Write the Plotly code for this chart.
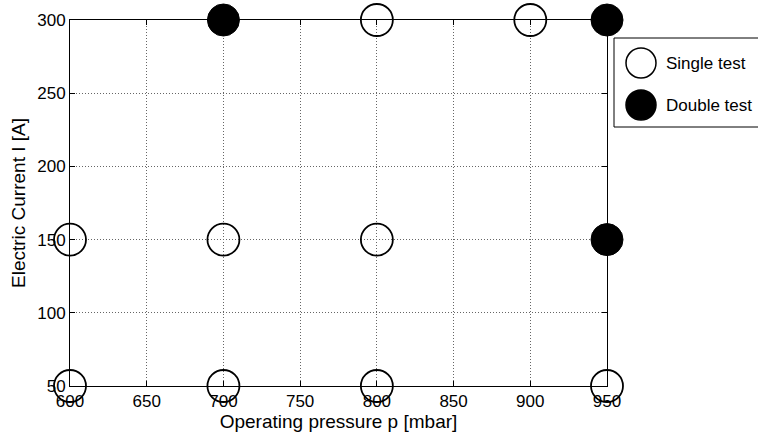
import plotly.graph_objects as go

single_x = [600, 700, 800, 950, 600, 700, 800, 800, 900]
single_y = [50, 50, 50, 50, 150, 150, 150, 300, 300]
double_x = [700, 950, 950]
double_y = [300, 300, 150]
x_ticks = [600, 650, 700, 750, 800, 850, 900, 950]
y_ticks = [50, 100, 150, 200, 250, 300]
legend_labels = ["Single test", "Double test"]

FONT = "Liberation Sans, Arial, sans-serif"
W, H = 758, 437
# plot area in page pixels
L, R, T, B = 70, 607, 20, 386

def xp(px):  # page px -> paper
    return (px - L) / (R - L)

def yp(py):
    return (B - py) / (B - T)

fig = go.Figure()
fig.add_trace(go.Scatter(
    x=single_x, y=single_y, mode="markers", name=legend_labels[0],
    marker=dict(symbol="circle", size=32, color="rgba(0,0,0,0)",
                line=dict(color="black", width=1.8)),
    cliponaxis=False, showlegend=False))
fig.add_trace(go.Scatter(
    x=double_x, y=double_y, mode="markers", name=legend_labels[1],
    marker=dict(symbol="circle", size=32, color="black",
                line=dict(color="black", width=1)),
    cliponaxis=False, showlegend=False))

axis_common = dict(
    showline=True, linecolor="black", linewidth=1, mirror="ticks",
    ticks="inside", ticklen=5, tickcolor="black", tickwidth=1,
    showgrid=True, gridcolor="#666666", griddash="1px,2px", gridwidth=1,
    zeroline=False, layer="below traces", automargin=False,
    tickfont=dict(family=FONT, size=17, color="black"),
)

fig.update_xaxes(range=[600, 950], tickvals=x_ticks,
                 ticktext=[str(v) for v in x_ticks],
                 title=dict(text="Operating pressure p [mbar]",
                            font=dict(family=FONT, size=19, color="black"),
                            standoff=4),
                 **axis_common)
fig.update_yaxes(range=[50, 300], tickvals=y_ticks,
                 ticktext=[str(v) for v in y_ticks],
                 title=dict(text="Electric Current I [A]",
                            font=dict(family=FONT, size=19, color="black"),
                            standoff=6),
                 **axis_common)

# Manual legend (large marker symbols as in the reference)
shapes = [dict(type="rect", xref="paper", yref="paper",
               x0=xp(614), x1=xp(775), y0=yp(127), y1=yp(38),
               line=dict(color="black", width=1), fillcolor="white")]
annotations = []
for i, (lab, fill) in enumerate(zip(legend_labels, ["white", "black"])):
    cy = 63 + i * 42
    shapes.append(dict(type="circle", xref="paper", yref="paper",
                       x0=xp(641 - 15), x1=xp(641 + 15),
                       y0=yp(cy + 15), y1=yp(cy - 15),
                       line=dict(color="black", width=1.5), fillcolor=fill))
    annotations.append(dict(xref="paper", yref="paper", x=xp(664), y=yp(cy),
                            text=lab, showarrow=False, xanchor="left",
                            yanchor="middle",
                            font=dict(family=FONT, size=17, color="black")))

fig.update_layout(
    width=W, height=H,
    margin=dict(l=L, r=W - R, t=T, b=H - B),
    paper_bgcolor="white", plot_bgcolor="white",
    showlegend=False, shapes=shapes, annotations=annotations,
    font=dict(family=FONT, color="black"),
)

fig.write_html("out.html",
               config={"displayModeBar": False, "staticPlot": True},
               post_script="document.body.style.margin='0';"
                           "document.body.style.overflow='hidden';")
